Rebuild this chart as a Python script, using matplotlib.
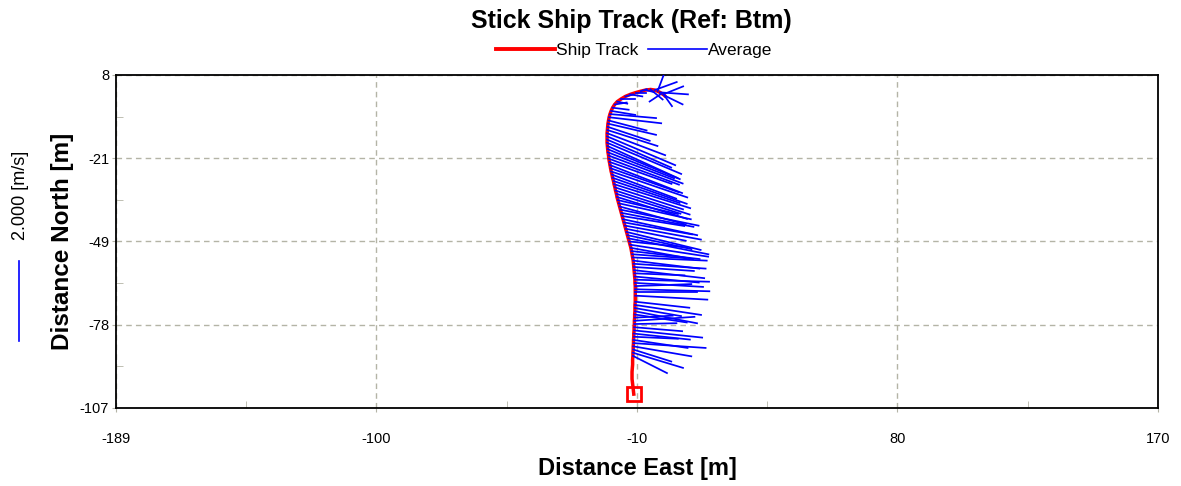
import numpy as np
import matplotlib.pyplot as plt
from matplotlib.lines import Line2D
from matplotlib.transforms import blended_transform_factory

plt.rcParams['font.family'] = ['Liberation Sans', 'DejaVu Sans']

# ship track, from start (square) to end
track_east = [-10.6, -10.9, -11.2, -11.2, -11.0, -11.0,
              -10.9, -10.9, -10.8, -10.8, -10.7, -10.7, -10.6, -10.6, -10.5, -10.5,
              -10.4, -10.4, -10.3, -10.3, -10.2, -10.2, -10.2, -10.1, -10.1, -10.1,
              -10.1, -10.1, -10.2, -10.2, -10.3, -10.4, -10.5, -10.6, -10.7, -10.8,
              -11.0, -11.2, -11.4, -11.6, -11.9, -12.2, -12.5, -12.8, -13.1, -13.4,
              -13.7, -14.0, -14.3, -14.6, -14.9, -15.2, -15.5, -15.8, -16.1, -16.4,
              -16.6, -16.9, -17.1, -17.4, -17.6, -17.9, -18.1, -18.4, -18.6, -18.8,
              -19.0, -19.2, -19.3, -19.5, -19.6, -19.7, -19.8, -19.8, -19.8, -19.8,
              -19.7, -19.6, -19.5, -19.3, -19.1, -18.8, -18.4, -17.9, -17.2, -16.3,
              -15.0, -13.5, -11.8, -10.0, -8.2, -6.5, -4.8, -3.4, -2.4, -1.6,
              -1.0, -0.5, -0.2, 0.0]
track_north = [-102.2, -99.5, -97.0, -94.5, -92.0, -90.2,
               -89.0, -87.9, -86.8, -85.7, -84.6, -83.5, -82.4, -81.3, -80.2, -79.1,
               -78.0, -76.9, -75.8, -74.7, -73.6, -72.5, -71.4, -70.3, -68.2, -67.1,
               -66.0, -64.9, -63.8, -62.7, -61.6, -60.5, -59.4, -58.3, -57.2, -56.1,
               -55.0, -53.9, -52.8, -51.7, -50.6, -49.5, -48.4, -47.3, -46.2, -45.1,
               -44.0, -42.9, -41.8, -40.7, -39.6, -38.5, -37.4, -36.3, -35.2, -34.1,
               -33.0, -31.9, -30.8, -29.7, -28.6, -27.5, -26.4, -25.3, -24.2, -23.1,
               -22.0, -20.9, -19.8, -18.7, -17.6, -16.5, -15.4, -14.3, -13.2, -12.1,
               -11.0, -9.9, -8.8, -7.7, -6.6, -5.5, -4.4, -3.3, -2.2, -1.2,
               -0.3, 0.6, 1.3, 1.9, 2.4, 2.8, 3.0, 2.8, 2.4, 2.0,
               1.6, 1.3, 1.1, 0.9]

# average velocity (m/s) at each ensemble, nan = no data
nan = np.nan
vel_east = [nan, nan, nan, nan, nan, nan,
            0.85, 1.25, 0.95, 1.45, 1.80, 1.35, 1.10, 1.40, 1.70, 1.20,
            1.05, 1.50, 0.95, 1.30, 1.55, 1.15, 1.65, 1.35, 1.80, 1.55,
            1.85, 1.40, 1.70, 1.85, 1.60, 1.25, 1.75, 1.50, 1.80, 1.65,
            1.85, 1.35, 1.70, 1.55, 1.95, 1.45, 2.00, 1.60, 1.85, 1.50,
            1.90, 1.70, 1.85, 1.55, 1.80, 1.95, 1.65, 1.80, 1.50, 1.75,
            1.60, 1.85, 1.70, 1.90, 1.65, 1.85, 1.60, 1.90, 1.70, 1.80,
            1.55, 1.75, 1.85, 1.65, 1.80, 1.75, 1.85, 1.60, 1.70, 1.45,
            1.25, 1.05, 1.20, 0.95, 1.30, 1.15, 0.60, 0.40, 0.30, 0.25,
            0.35, 0.20, 0.30, 0.25, 0.15, 0.20, 0.30, 0.55, 0.15, 0.70,
            -0.30, 0.50, 0.20, 0.45]
vel_north = [nan, nan, nan, nan, nan, nan,
             -0.43, -0.38, -0.30, -0.25, -0.12, -0.20, -0.05, -0.15, -0.18, -0.10,
             0.02, 0.10, 0.05, -0.20, -0.30, -0.20, -0.25, -0.15, -0.10, 0.00,
             -0.05, 0.05, -0.10, -0.05, -0.15, -0.05, -0.20, -0.10, -0.12, -0.20,
             -0.08, -0.10, -0.20, -0.28, -0.30, -0.15, -0.40, -0.35, -0.45, -0.30,
             -0.35, -0.30, -0.40, -0.25, -0.35, -0.40, -0.45, -0.40, -0.35, -0.55,
             -0.50, -0.60, -0.55, -0.60, -0.55, -0.65, -0.60, -0.65, -0.60, -0.70,
             -0.55, -0.65, -0.70, -0.65, -0.75, -0.80, -0.78, -0.70, -0.72, -0.55,
             -0.40, -0.35, -0.28, -0.25, -0.15, -0.10, -0.10, -0.05, 0.05, -0.05,
             0.00, 0.05, -0.05, 0.00, 0.05, -0.05, -0.25, 0.20, 0.40, -0.05,
             -0.20, 0.20, -0.28, -0.22]

x_range = [-189, 170]
y_range = [-107, 8]
x_tick_labels = ['-189', '-100', '-10', '80', '170']
y_tick_labels = ['-107', '-78', '-49', '-21', '8']
stick_scale = 13.8      # metres of plot per m/s
scale_speed = 2.0       # length of the reference bar, m/s

fig = plt.figure(figsize=(11.81, 4.86), dpi=100)
ax = fig.add_axes([0.0982, 0.1605, 0.8823, 0.6852])

grid_col = '#b4b4a6'
xt = np.linspace(x_range[0], x_range[1], 5)
yt = np.linspace(y_range[0], y_range[1], 5)
ax.set_xlim(x_range)
ax.set_ylim(y_range)
ax.set_xticks(xt)
ax.set_xticklabels(x_tick_labels)
ax.set_yticks(yt)
ax.set_yticklabels(y_tick_labels)
ax.set_xticks((xt[:-1] + xt[1:]) / 2, minor=True)
ax.set_yticks((yt[:-1] + yt[1:]) / 2, minor=True)
ax.tick_params(which='major', direction='out', length=3, color=grid_col, labelsize=10.5)
ax.tick_params(axis='x', which='major', pad=14)
ax.tick_params(axis='y', which='major', pad=2)
ax.tick_params(which='minor', direction='in', length=5, color=grid_col)
ax.grid(True, which='major', color=grid_col, linestyle=(0, (4, 3)), linewidth=1)
for s in ax.spines.values():
    s.set_linewidth(1.3)
    s.set_color('black')

# sticks
for i in range(len(track_east)):
    if np.isnan(vel_east[i]):
        continue
    x0, y0 = track_east[i], track_north[i]
    ax.plot([x0, x0 + vel_east[i] * stick_scale], [y0, y0 + vel_north[i] * stick_scale],
            color='#0000ff', linewidth=1.25, zorder=3)

ax.plot(track_east, track_north, color='#ff0000', linewidth=2.5, zorder=2)
ax.plot(track_east[0], track_north[0], marker='s', markersize=10, markerfacecolor='none',
        markeredgecolor='#ff0000', markeredgewidth=2, zorder=4)

ax.set_xlabel('Distance East [m]', fontsize=17, fontweight='bold', labelpad=8)
ax.set_ylabel('Distance North [m]', fontsize=17.5, fontweight='bold', labelpad=4)

# reference speed bar at the left
tr = blended_transform_factory(fig.transFigure, ax.transData)
bar_y0 = y_range[0] + 0.2 * (y_range[1] - y_range[0])
ax.plot([0.016, 0.016], [bar_y0, bar_y0 + scale_speed * stick_scale], transform=tr,
        color='#0000ff', linewidth=1.2, clip_on=False)
fig.text(0.017, 0.597, '2.000 [m/s]', rotation=90, ha='center', va='center', fontsize=13)

fig.text(0.535, 0.957, 'Stick Ship Track (Ref: Btm)', ha='center', va='center',
         fontsize=18, fontweight='bold')
handles = [Line2D([], [], color='#ff0000', linewidth=2.8),
           Line2D([], [], color='#0000ff', linewidth=1.2)]
fig.legend(handles, ['Ship Track', 'Average'], loc='center', bbox_to_anchor=(0.537, 0.897),
           ncol=2, frameon=False, fontsize=12.5, handlelength=3.4, handletextpad=0.1,
           columnspacing=0.5)

fig.savefig('out.png', dpi=100)
